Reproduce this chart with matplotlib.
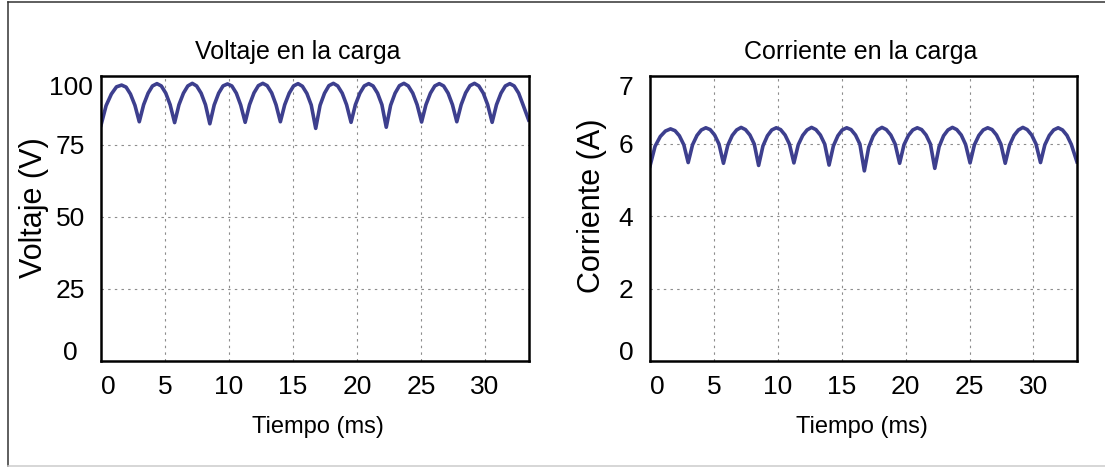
import matplotlib
matplotlib.use("Agg")
import matplotlib.pyplot as plt
from matplotlib.lines import Line2D

plt.rcParams['font.family'] = ['Liberation Sans', 'DejaVu Sans']

# Datos (tiempo en ms)
tiempo_ms = [
    0.00, 0.40, 0.81, 1.21, 1.61, 1.96, 2.30, 2.65,
    2.99, 3.33, 3.68, 4.02, 4.37, 4.71, 5.06, 5.40,
    5.75, 6.09, 6.44, 6.78, 7.13, 7.47, 7.82, 8.16,
    8.50, 8.84, 9.19, 9.53, 9.88, 10.22, 10.57, 10.91,
    11.26, 11.60, 11.95, 12.29, 12.64, 12.98, 13.33, 13.67,
    14.01, 14.35, 14.70, 15.04, 15.39, 15.73, 16.08, 16.42,
    16.77, 17.11, 17.46, 17.80, 18.15, 18.49, 18.84, 19.18,
    19.53, 19.87, 20.22, 20.56, 20.91, 21.25, 21.60, 21.94,
    22.28, 22.62, 22.97, 23.31, 23.66, 24.00, 24.35, 24.69,
    25.04, 25.38, 25.73, 26.07, 26.42, 26.76, 27.11, 27.45,
    27.79, 28.13, 28.48, 28.82, 29.17, 29.51, 29.86, 30.20,
    30.55, 30.89, 31.24, 31.58, 31.93, 32.27, 32.62, 32.96,
    33.40,
]

voltaje_v = [
    81.7, 88.5, 92.5, 95.0, 95.6, 94.9, 92.5, 88.6,
    82.9, 88.8, 92.8, 95.3, 96.1, 95.3, 92.8, 88.8,
    82.6, 88.8, 92.8, 95.3, 96.2, 95.3, 92.8, 88.8,
    82.2, 88.7, 92.8, 95.3, 96.0, 95.3, 92.8, 88.7,
    82.7, 88.8, 92.9, 95.4, 96.2, 95.4, 92.9, 88.8,
    82.9, 88.8, 92.8, 95.3, 96.1, 95.2, 92.7, 88.7,
    80.6, 88.6, 92.8, 95.4, 96.2, 95.3, 92.8, 88.8,
    82.7, 88.8, 92.8, 95.3, 96.1, 95.3, 92.8, 88.8,
    81.0, 88.6, 92.8, 95.4, 96.2, 95.3, 92.8, 88.8,
    82.8, 88.8, 92.8, 95.3, 96.1, 95.3, 92.8, 88.8,
    82.9, 88.8, 92.9, 95.4, 96.2, 95.3, 92.8, 88.8,
    82.7, 88.8, 92.8, 95.3, 96.1, 95.3, 92.8, 88.8,
    83.5,
]

corriente_a = [
    5.38, 5.93, 6.20, 6.35, 6.41, 6.36, 6.22, 5.97,
    5.48, 5.97, 6.23, 6.38, 6.44, 6.39, 6.24, 5.99,
    5.46, 5.96, 6.23, 6.38, 6.45, 6.39, 6.24, 5.99,
    5.40, 5.94, 6.22, 6.38, 6.44, 6.39, 6.24, 5.99,
    5.47, 5.97, 6.23, 6.38, 6.45, 6.39, 6.24, 5.99,
    5.41, 5.94, 6.22, 6.38, 6.44, 6.39, 6.24, 5.99,
    5.25, 5.90, 6.21, 6.38, 6.45, 6.39, 6.24, 5.99,
    5.46, 5.97, 6.23, 6.38, 6.44, 6.39, 6.24, 5.99,
    5.32, 5.92, 6.22, 6.38, 6.45, 6.39, 6.24, 5.98,
    5.47, 5.97, 6.23, 6.38, 6.44, 6.39, 6.24, 5.99,
    5.46, 5.96, 6.23, 6.38, 6.45, 6.39, 6.24, 5.99,
    5.48, 5.97, 6.23, 6.38, 6.44, 6.38, 6.23, 5.98,
    5.50,
]

x_labels = ['0', '5', '10', '15', '20', '25', '30']
x_label_pos = [0.6, 5, 10, 15, 20, 25, 30]
x_grid = [5, 10, 15, 20, 25, 30]

v_labels = ['0', '25', '50', '75', '100']
v_label_pos = [3.8, 25.0, 50.0, 75.0, 95.5]
v_grid = [25, 50, 75]

i_labels = ['0', '2', '4', '6', '7']
i_label_pos = [0.3, 2.0, 4.0, 6.0, 7.6]
i_grid = [2, 4, 6]

line_color = '#3d3f8e'

fig = plt.figure(figsize=(11.05, 4.68), dpi=100)
ax1 = fig.add_axes([0.0914, 0.2286, 0.3870, 0.609])
ax2 = fig.add_axes([0.5882, 0.2286, 0.3864, 0.609])


def style_axis(ax, ylim, ylabels, ylabel_pos, ygrid):
    ax.set_xlim(0, 33.4)
    ax.set_ylim(*ylim)
    # sin esto matplotlib quita los ticks menores que coinciden con los mayores
    ax.xaxis.remove_overlapping_locs = False
    ax.yaxis.remove_overlapping_locs = False
    ax.set_xticks(x_label_pos, labels=x_labels)
    ax.set_xticks(x_grid, minor=True)
    ax.set_yticks(ylabel_pos, labels=ylabels)
    ax.set_yticks(ygrid, minor=True)
    ax.grid(False, which='major')
    ax.grid(True, which='minor', color='#8c8c8c', linestyle=(0, (2.2, 3.8)), linewidth=0.8)
    ax.tick_params(which='both', length=0, labelsize=19)
    for s in ax.spines.values():
        s.set_linewidth(1.8)
        s.set_color('black')


ax1.plot(tiempo_ms, voltaje_v, color=line_color, linewidth=2.6, solid_joinstyle='round')
style_axis(ax1, (0, 98.75), v_labels, v_label_pos, v_grid)
ax1.tick_params(axis='y', pad=22)
for lab in ax1.get_yticklabels():
    lab.set_horizontalalignment('center')
ax1.tick_params(axis='x', pad=10)
ax1.set_title('Voltaje en la carga', fontsize=18, x=0.461, y=1.084, pad=0, va='center')
ax1.set_xlabel('Tiempo (ms)', fontsize=17, va='center')
ax1.xaxis.set_label_coords(0.507, -0.2316)
ax1.set_ylabel('Voltaje (V)', fontsize=22, va='center')
ax1.yaxis.set_label_coords(-0.157, 0.537)

ax2.plot(tiempo_ms, corriente_a, color=line_color, linewidth=2.6, solid_joinstyle='round')
style_axis(ax2, (0, 7.87), i_labels, i_label_pos, i_grid)
ax2.tick_params(axis='y', pad=12)
ax2.tick_params(axis='x', pad=10)
ax2.set_title('Corriente en la carga', fontsize=18, x=0.493, y=1.084, pad=0, va='center')
ax2.set_xlabel('Tiempo (ms)', fontsize=17, va='center')
ax2.xaxis.set_label_coords(0.497, -0.2316)
ax2.set_ylabel('Corriente (A)', fontsize=22, va='center')
ax2.yaxis.set_label_coords(-0.1365, 0.546)

# marco exterior
fig.add_artist(Line2D([8 / 1105, 8 / 1105], [1 - 1.5 / 468, 1 - 466 / 468], color='#333333', linewidth=1.1))
fig.add_artist(Line2D([8 / 1105, 1.0], [1 - 1.5 / 468, 1 - 1.5 / 468], color='#333333', linewidth=1.1))
fig.add_artist(Line2D([8 / 1105, 1.0], [1 - 466 / 468, 1 - 466 / 468], color='#cccccc', linewidth=1.1))

fig.savefig('out.png', dpi=100)
